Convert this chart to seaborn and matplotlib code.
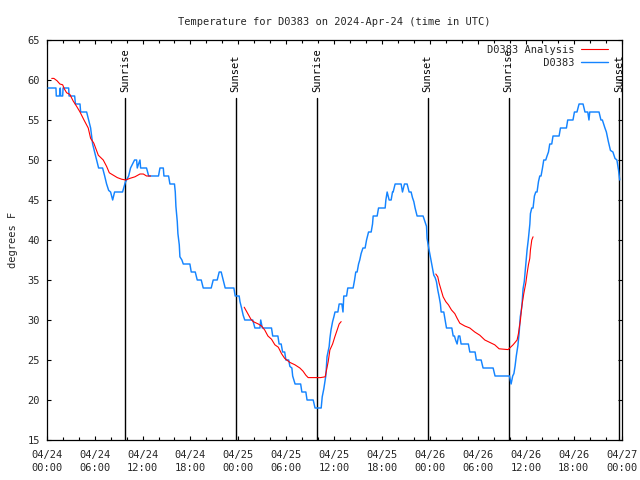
import numpy as np
import pandas as pd
import matplotlib
matplotlib.use("Agg")
import matplotlib.pyplot as plt
import seaborn as sns
from matplotlib.lines import Line2D

# ---------------- data (hours since 2024-04-24 00:00 UTC, degrees F) ----------------
blue_hours = [0.16, 1.16, 1.2, 1.6, 1.7, 1.75, 2.0, 2.05, 2.75, 2.8, 3.5, 3.6, 4.17, 4.25, 5.0, 5.25,
              5.5, 5.75, 6.0, 6.5, 7.0, 7.26, 7.5, 7.76, 8.0, 8.26, 8.5, 9.5, 9.84, 10.26, 10.5, 11.0,
              11.26, 11.34, 11.5, 11.68, 11.76, 12.5, 12.77, 14.0, 14.18, 14.6, 14.68, 15.26, 15.43, 16.0,
              16.1, 16.18, 16.35, 16.43, 16.6, 16.68, 16.93, 17.1, 17.93, 18.1, 18.6, 18.85, 19.35, 19.6,
              20.6, 20.85, 21.35, 21.6, 21.85, 22.1, 22.35, 23.44, 23.6, 24.1, 24.2, 24.4, 24.6, 24.8,
              25.65, 25.8, 26.07, 26.7, 26.8, 27.0, 28.15, 28.3, 28.95, 29.1, 29.36, 29.54, 29.8, 29.95,
              30.3, 30.45, 30.7, 30.8, 31.1, 31.8, 31.95, 32.45, 32.6, 33.37, 33.6, 34.37, 34.5, 34.7,
              34.96, 35.1, 35.37, 35.46, 35.6, 35.8, 35.96, 36.1, 36.46, 36.62, 36.96, 37.1, 37.2, 37.37,
              37.55, 37.7, 38.37, 38.55, 38.7, 38.87, 39.05, 39.2, 39.37, 39.6, 39.87, 40.05, 40.3, 40.63,
              40.8, 40.88, 41.38, 41.55, 42.38, 42.47, 42.63, 42.88, 43.13, 43.3, 43.38, 43.63, 44.38,
              44.55, 44.8, 45.13, 45.38, 45.63, 45.8, 45.97, 46.13, 46.38, 47.13, 47.3, 47.56, 47.63,
              47.8, 47.97, 48.13, 48.3, 48.47, 48.64, 48.8, 48.97, 49.14, 49.3, 49.39, 49.72, 49.89,
              50.06, 50.73, 50.9, 51.06, 51.2, 51.39, 51.56, 51.73, 51.89, 52.8, 52.98, 53.64, 53.8,
              54.4, 54.64, 55.9, 56.14, 57.82, 57.95, 58.15, 58.35, 58.5, 58.65, 58.8, 59.0, 59.15,
              59.3, 59.5, 59.65, 59.8, 60.0, 60.15, 60.3, 60.5, 60.57, 60.74, 60.9, 61.07, 61.24, 61.4,
              61.58, 61.74, 61.9, 62.08, 62.24, 62.49, 62.65, 62.83, 62.99, 63.24, 63.4, 64.16, 64.33,
              65.08, 65.24, 65.9, 66.08, 66.4, 66.66, 67.16, 67.4, 67.75, 67.9, 68.0, 68.16, 69.16,
              69.4, 69.58, 69.9, 70.08, 70.33, 70.59, 70.9, 71.16, 71.4, 71.6, 71.75]
blue_temps = [59, 59, 58, 58, 59, 58, 58, 59, 59, 58, 58, 57, 57, 56, 56, 55,
              54, 52, 51, 49, 49, 48, 47, 46.2, 46, 45, 46, 46, 47.2, 48, 49, 50,
              50, 49, 49.5, 50, 49, 49, 48, 48, 49, 49, 48, 48, 47, 47,
              46, 44.2, 42.3, 40.8, 39.4, 37.9, 37.5, 37, 37, 36, 36, 35, 35, 34,
              34, 35, 35, 36, 36, 35, 34, 34, 33, 33, 32.3, 31.5, 30.6, 30,
              30, 30, 29, 29, 30, 29, 29, 28, 28, 27, 27, 26, 26, 25,
              25, 24.2, 24, 23, 22, 22, 21, 21, 20, 20, 19, 19, 20.4, 21.4,
              23.1, 25.4, 26.7, 27.7, 28.75, 29.8, 30.4, 31, 31, 32, 32, 31, 33, 33,
              33, 34, 34, 35, 36, 36, 37, 37.5, 38.3, 39, 39, 40, 41, 41,
              42, 43, 43, 44, 44, 45, 46, 45, 45, 46, 46, 47, 47,
              46, 47, 47, 46, 46, 45.3, 44.8, 44, 43, 43, 42.5, 41.7, 40.2,
              39.2, 38.3, 37.5, 36.5, 35.6, 35.3, 34.8, 33.75, 32.9, 32, 31, 31, 30,
              29, 29, 28, 28, 27.5, 27, 28, 28, 27, 27, 26, 26, 25,
              25, 24, 24, 23, 23, 23, 22, 23, 23.3, 24.25, 25.5, 26.8, 28.3,
              30.4, 31.7, 33.9, 34.8, 37, 38.75, 40, 42, 43.3, 44, 44, 45.5, 46, 46,
              47.3, 48, 48, 49, 50, 50, 50.5, 51, 52, 52, 53, 53, 54,
              54, 55, 55, 56, 56, 57, 57, 56, 56, 55, 56, 56, 56,
              55, 55, 54, 53.5, 52.3, 51.2, 51, 50.2, 50, 48.75, 47.5]

red_seg1_hours = [0.63, 0.9, 1.3, 1.65, 2.0, 2.2, 2.5, 2.9, 3.3, 3.75, 4.17, 4.67, 5.2, 5.5, 5.9,
                  6.46, 7.08, 7.5, 7.84, 8.34, 8.84, 9.38, 9.9, 10.4, 11.05, 11.68, 12.1, 12.5, 13.0]
red_seg1_temps = [60.2, 60.2, 59.9, 59.5, 59.4, 58.9, 58.4, 58.2, 57.4, 56.7, 56.0, 55.0, 54.0, 52.7, 52.1,
                  50.6, 50.0, 49.2, 48.4, 48.1, 47.8, 47.6, 47.5, 47.7, 47.9, 48.25, 48.25, 48.0, 48.0]
red_seg2_hours = [24.73, 25.57, 25.86, 26.5, 26.9, 27.3, 27.7, 28.15, 28.57, 29.0, 29.4, 29.8, 30.45,
                  31.08, 31.7, 32.1, 32.45, 32.74, 34.3, 34.87, 35.04, 35.25, 35.46, 35.8, 36.08,
                  36.37, 36.62, 36.87]
red_seg2_temps = [31.6, 30.1, 29.8, 29.5, 29.25, 28.75, 28.0, 27.6, 26.9, 26.6, 25.8, 25.2, 24.7,
                  24.4, 24.0, 23.6, 23.1, 22.8, 22.8, 22.9, 23.75, 24.8, 26.25, 27.0, 27.9,
                  28.75, 29.5, 29.8]
red_seg3_hours = [48.72, 48.97, 49.14, 49.39, 49.64, 49.97, 50.3, 50.69, 51.1, 51.4, 51.73, 52.35,
                  52.98, 53.6, 54.23, 54.86, 55.48, 56.1, 56.65, 57.77, 58.4, 58.9, 59.07, 59.32,
                  59.49, 59.74, 59.99, 60.15, 60.32, 60.49, 60.57, 60.74, 60.9]
red_seg3_temps = [35.75, 35.4, 34.6, 33.75, 32.9, 32.3, 31.9, 31.25, 30.8, 30.2, 29.6, 29.25,
                  29.0, 28.5, 28.1, 27.5, 27.2, 26.9, 26.4, 26.3, 26.9, 27.5, 28.3, 30.0,
                  31.7, 33.3, 34.6, 35.8, 36.9, 37.7, 38.75, 40.0, 40.4]

event_hours = [9.84, 23.67, 33.88, 47.71, 57.85, 71.70]
event_labels = ["Sunrise", "Sunset", "Sunrise", "Sunset", "Sunrise", "Sunset"]

xtick_hours = [0, 6, 12, 18, 24, 30, 36, 42, 48, 54, 60, 66, 72]
xtick_labels = ["04/24\n00:00", "04/24\n06:00", "04/24\n12:00", "04/24\n18:00",
                "04/25\n00:00", "04/25\n06:00", "04/25\n12:00", "04/25\n18:00",
                "04/26\n00:00", "04/26\n06:00", "04/26\n12:00", "04/26\n18:00",
                "04/27\n00:00"]
ytick_values = [15, 20, 25, 30, 35, 40, 45, 50, 55, 60, 65]

name_obs = "D0383"
name_ana = "D0383 Analysis"
title = "Temperature for D0383 on 2024-Apr-24 (time in UTC)"

# ---------------- build tables ----------------
blue_df = pd.DataFrame({"hour": blue_hours, "temp": blue_temps, "series": name_obs, "seg": 0})
red_parts = []
for i, (h, t) in enumerate([(red_seg1_hours, red_seg1_temps),
                            (red_seg2_hours, red_seg2_temps),
                            (red_seg3_hours, red_seg3_temps)]):
    red_parts.append(pd.DataFrame({"hour": h, "temp": t, "series": name_ana, "seg": i + 1}))
red_df = pd.concat(red_parts, ignore_index=True)

# ---------------- plot ----------------
sns.set_style("white")
plt.rcParams["font.family"] = ["DejaVu Sans Mono", "DejaVu Sans"]
plt.rcParams["font.size"] = 7.5

fig = plt.figure(figsize=(6.4, 4.8), dpi=100)
ax = fig.add_axes([46.7 / 640, 1 - 440 / 480, (621.7 - 46.7) / 640, 400 / 480])

blue_c = "#1484ff"
red_c = "#ff0000"

sns.lineplot(data=blue_df, x="hour", y="temp", units="seg", estimator=None, sort=False,
             color=blue_c, linewidth=1.05, ax=ax, legend=False, zorder=3)
sns.lineplot(data=red_df, x="hour", y="temp", units="seg", estimator=None, sort=False,
             color=red_c, linewidth=0.8, ax=ax, legend=False, zorder=4)

trans = ax.get_xaxis_transform()
for h, lab in zip(event_hours, event_labels):
    ax.plot([h, h], [0, 0.855], transform=trans, color="black", lw=1.0, zorder=2)
    ax.text(h, 0.87, lab, transform=trans, rotation=90, ha="center", va="bottom",
            fontsize=7.5, color="black")

ax.set_xlim(0, 72)
ax.set_ylim(15, 65)
ax.set_xticks(xtick_hours)
ax.set_xticklabels(xtick_labels)
for t in ax.get_xticklabels():
    t.set_linespacing(1.45)
ax.set_xticks(np.arange(0, 73, 2), minor=True)
ax.set_yticks(ytick_values)
ax.set_yticklabels([str(v) for v in ytick_values])
ax.tick_params(which="both", direction="in", top=True, right=True, bottom=True, left=True,
               color="black", width=0.8, labelsize=7.5)
ax.tick_params(which="major", length=3.0)
ax.tick_params(which="minor", length=2.0)
ax.tick_params(axis="y", which="major", pad=5)
ax.tick_params(axis="x", which="major", pad=7)

for s in ax.spines.values():
    s.set_color("black")
    s.set_linewidth(0.9)

ax.set_xlabel("")
ax.set_ylabel("degrees F", fontsize=7.5, labelpad=7)
ax.set_title(title, fontsize=7.5, pad=11)

handles = [Line2D([], [], color=red_c, lw=0.8), Line2D([], [], color=blue_c, lw=1.0)]
labels = [name_ana, name_obs.rjust(len(name_ana))]
ax.legend(handles, labels, loc="upper right", bbox_to_anchor=(0.985, 1.0), frameon=False,
          markerfirst=False, handlelength=2.6, handletextpad=0.7, labelspacing=0.3,
          borderaxespad=0.3, borderpad=0.15, fontsize=7.5)

fig.savefig("out.png", dpi=100)
